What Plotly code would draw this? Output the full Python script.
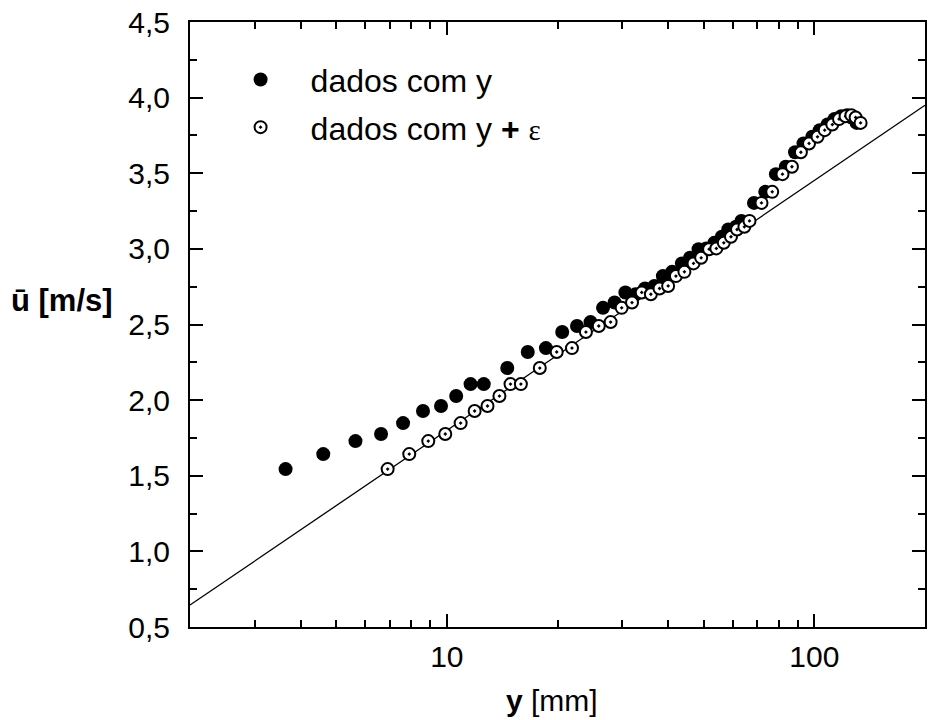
import plotly.graph_objects as go

# ---- data ----
y_filled = [3.64, 4.61, 5.64, 6.62, 7.60, 8.61, 9.64, 10.6, 11.6, 12.6,
            14.6, 16.6, 18.6, 20.6, 22.6, 24.6, 26.6, 28.6, 30.6, 32.6,
            34.6, 36.7, 38.7, 41.0, 43.6, 45.9, 48.4, 50.8, 53.4, 56.0,
            58.3, 61.2, 63.3, 68.5, 73.5, 78.6, 83.6, 88.6, 93.4, 98.7,
            103.4, 108.6, 113.4, 118.3, 122.8, 126.2, 130.3]
u_filled = [1.544, 1.643, 1.729, 1.776, 1.848, 1.928, 1.961, 2.027, 2.106, 2.106,
            2.212, 2.318, 2.344, 2.450, 2.490, 2.516, 2.610, 2.645, 2.712, 2.700,
            2.738, 2.755, 2.820, 2.848, 2.904, 2.941, 2.998, 3.003, 3.040, 3.080,
            3.128, 3.146, 3.185, 3.304, 3.377, 3.494, 3.543, 3.639, 3.697, 3.741,
            3.785, 3.822, 3.858, 3.877, 3.884, 3.869, 3.833]
y_shifted = [6.9, 7.9, 8.9, 9.9, 10.9, 11.9, 12.9, 13.9, 14.9, 15.9,
             17.9, 19.9, 21.9, 23.9, 25.9, 27.9, 29.9, 31.9, 33.9, 35.9,
             37.9, 40.0, 42.0, 44.3, 46.9, 49.2, 51.7, 54.1, 56.7, 59.3,
             61.6, 64.5, 66.6, 71.8, 76.8, 81.9, 86.9, 91.9, 96.7, 102.0,
             106.7, 111.9, 116.7, 121.6, 126.1, 129.5, 133.6]
u_shifted = u_filled[:]  # same velocities, plotted against y + epsilon

fit_y = [2, 200]
fit_u = [0.645, 3.95]

x_minor = [2, 3, 4, 5, 6, 7, 8, 9, 20, 30, 40, 50, 60, 70, 80, 90, 200]
x_major = [10, 100]
x_major_text = ["10", "100"]
y_major = [0.5, 1.0, 1.5, 2.0, 2.5, 3.0, 3.5, 4.0, 4.5]
y_major_text = ["0,5", "1,0", "1,5", "2,0", "2,5", "3,0", "3,5", "4,0", "4,5"]
y_minor = [0.75, 1.25, 1.75, 2.25, 2.75, 3.25, 3.75, 4.25]

FONT = "Liberation Sans, Arial, sans-serif"

fig = go.Figure()
fig.add_trace(go.Scatter(x=fit_y, y=fit_u, mode="lines",
                         line=dict(color="black", width=1.3),
                         showlegend=False, hoverinfo="skip"))
fig.add_trace(go.Scatter(x=y_filled, y=u_filled, mode="markers",
                         name="dados com y", legendgroup="a",
                         marker=dict(symbol="circle", size=14, color="black",
                                     line=dict(width=0))))
fig.add_trace(go.Scatter(x=y_shifted, y=u_shifted, mode="markers",
                         name="dados com y <b>+</b> <span style='font-family:Liberation Serif;font-size:29px'>ε</span>",
                         legendgroup="b",
                         marker=dict(symbol="circle-dot", size=12, color="white",
                                     line=dict(width=2, color="black"))))

fig.update_layout(
    width=928, height=720,
    margin=dict(l=190, r=1, t=22, b=93),
    paper_bgcolor="white", plot_bgcolor="white",
    font=dict(family=FONT, size=30, color="black"),
    legend=dict(x=0.028, y=0.95, xanchor="left", yanchor="top",
                bgcolor="rgba(0,0,0,0)", itemwidth=90, tracegroupgap=3,
                font=dict(size=32)),
    xaxis=dict(type="log", range=[0.30103, 2.30103],
               tickmode="array", tickvals=x_major, ticktext=x_major_text,
               ticks="inside", ticklen=13, tickwidth=2, tickcolor="black",
               minor=dict(tickmode="array", tickvals=x_minor, ticks="inside",
                          ticklen=7, tickwidth=1.8, tickcolor="black"),
               showline=True, linewidth=2, linecolor="black", mirror="ticks",
               showgrid=False, zeroline=False, ticklabelstandoff=2,
               tickfont=dict(size=30)),
    yaxis=dict(range=[0.5, 4.5],
               tickmode="array", tickvals=y_major, ticktext=y_major_text,
               ticks="inside", ticklen=13, tickwidth=2, tickcolor="black",
               minor=dict(tickmode="array", tickvals=y_minor, ticks="inside",
                          ticklen=7, tickwidth=1.8, tickcolor="black"),
               showline=True, linewidth=2, linecolor="black", mirror="ticks",
               showgrid=False, zeroline=False, ticklabelstandoff=12,
               tickfont=dict(size=30)),
    annotations=[
        dict(text="<b>y</b> [mm]", xref="paper", yref="paper",
             x=0.493, y=-0.122, xanchor="center", yanchor="middle",
             showarrow=False, font=dict(size=30)),
        dict(text="<b>ū [m/s]</b>", xref="paper", yref="paper",
             x=-0.174, y=0.54, xanchor="center", yanchor="middle",
             showarrow=False, font=dict(size=31)),
    ],
)

fig.write_html("out.html")
